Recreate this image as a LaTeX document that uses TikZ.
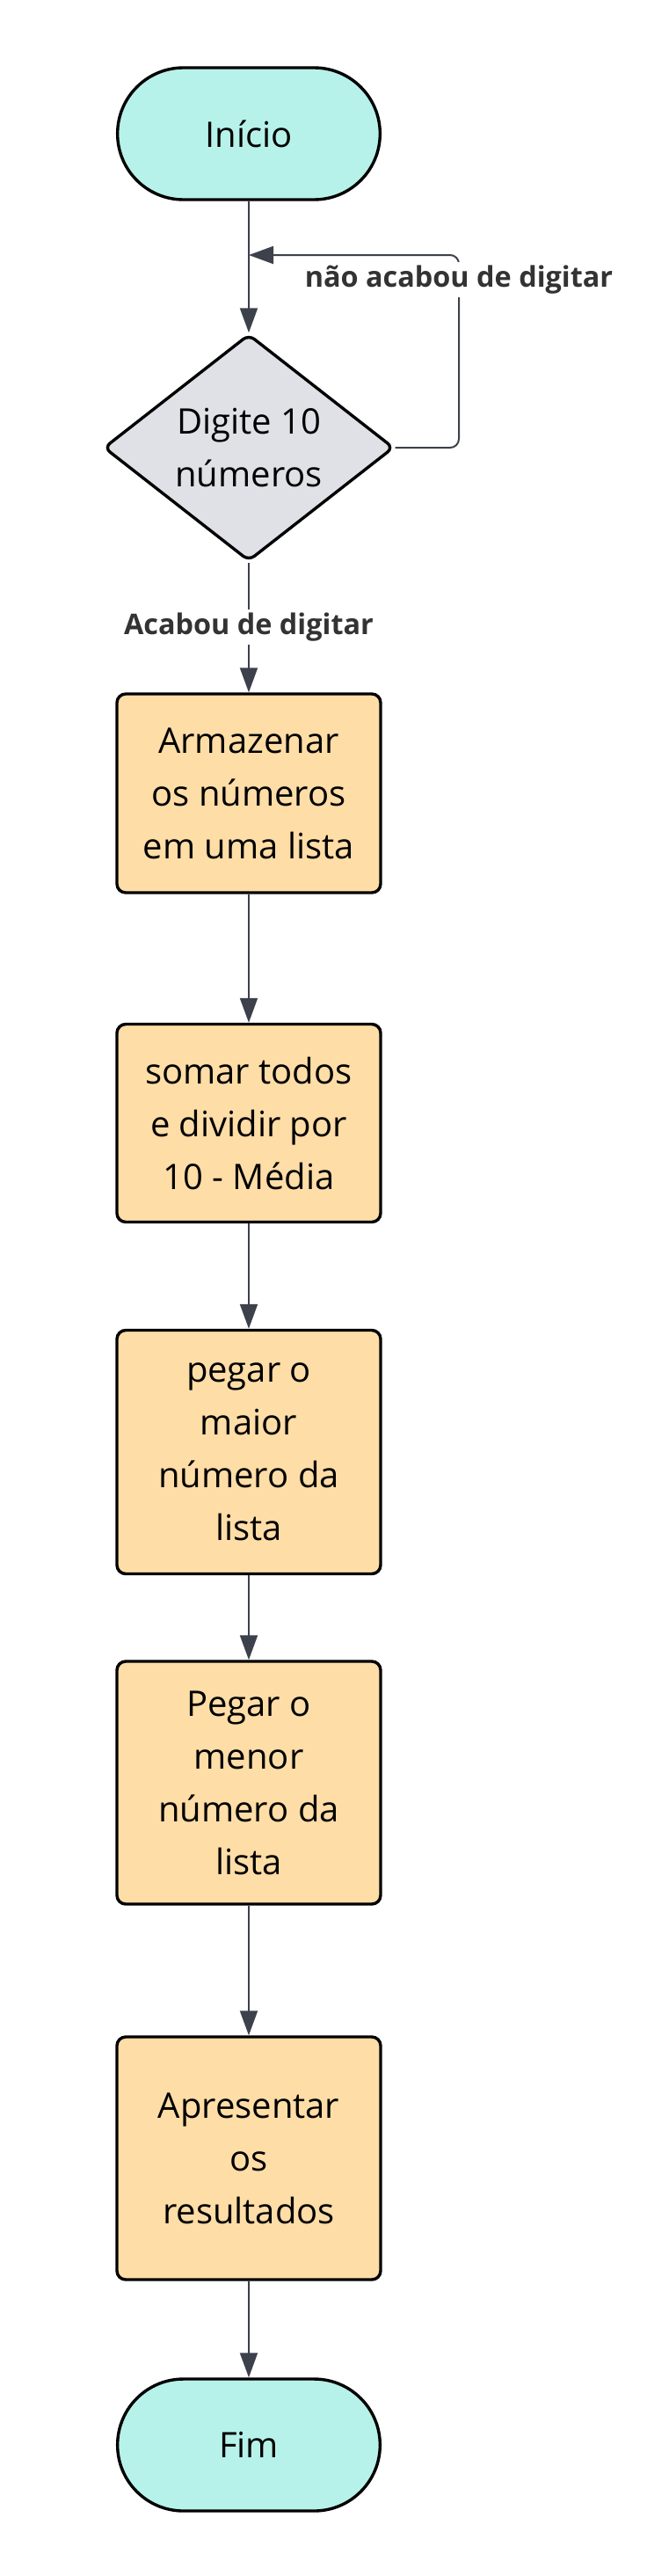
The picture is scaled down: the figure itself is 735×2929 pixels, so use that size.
\documentclass[tikz,border=0pt]{standalone}
\usepackage{fontspec}
\setmainfont{Open Sans}
\usetikzlibrary{shapes.geometric,shapes.misc,arrows.meta}
\definecolor{terminal}{HTML}{B6F2EA}
\definecolor{processo}{HTML}{FEDDA7}
\definecolor{decisao}{HTML}{DFE1E6}
\definecolor{seta}{HTML}{3C414C}
\definecolor{rotulo}{HTML}{333333}
\begin{document}
\begin{tikzpicture}[x=0.5pt,y=-0.5pt,
	terminal/.style={rounded rectangle,draw=black,line width=1.7pt,fill=terminal,
		minimum width=156pt,minimum height=75pt,font=\fontsize{20pt}{30pt}\selectfont},
	caixa/.style={rectangle,rounded corners=5pt,draw=black,line width=1.7pt,fill=processo,
		minimum width=150pt,align=center,font=\fontsize{20pt}{30pt}\selectfont},
	pergunta/.style={diamond,rounded corners=4pt,draw=black,line width=1.7pt,fill=decisao,
		minimum width=165pt,minimum height=129pt,inner sep=0pt,align=center,
		font=\fontsize{20pt}{30pt}\selectfont},
	fluxo/.style={draw=seta,line width=1pt,-{Triangle[length=14pt,width=10pt]}},
	texto/.style={fill=white,text=rotulo,inner sep=2pt,font=\fontsize{16.2pt}{19pt}\selectfont\bfseries}]
\useasboundingbox (0,0) rectangle (735,2929);
% nodes
\node[terminal] (inicio) at (283,152) {Início};
\node[pergunta] (digite) at (283,509) {Digite 10\\números};
\node[caixa,minimum height=113pt] (armazenar) at (283,902) {Armazenar\\os números\\em uma lista};
\node[caixa,minimum height=112.5pt] (somar) at (283,1277) {somar todos\\e dividir por\\10 - Média};
\node[caixa,minimum height=138.5pt] (maior) at (283,1651) {pegar o\\maior\\número da\\lista};
\node[caixa,minimum height=138pt] (menor) at (283,2027) {Pegar o\\menor\\número da\\lista};
\node[caixa,minimum height=138pt] (apresentar) at (283,2454) {Apresentar\\os\\resultados};
\node[terminal] (fim) at (283,2780) {Fim};
\coordinate (retorno) at (283,290);
\coordinate (canto) at (522,290);
% arrows
\draw[fluxo] (inicio) -- (digite);
\draw[fluxo,rounded corners=5pt] (digite.east) -| (canto) -- (retorno);
\node[texto] (naoacabou) at (522,318) {não acabou de digitar};
\draw[fluxo] (digite) -- (armazenar);
\node[texto] (acabou) at (283,713) {Acabou de digitar};
\draw[fluxo] (armazenar) -- (somar);
\draw[fluxo] (somar) -- (maior);
\draw[fluxo] (maior) -- (menor);
\draw[fluxo] (menor) -- (apresentar);
\draw[fluxo] (apresentar) -- (fim);
\end{tikzpicture}
\end{document}
